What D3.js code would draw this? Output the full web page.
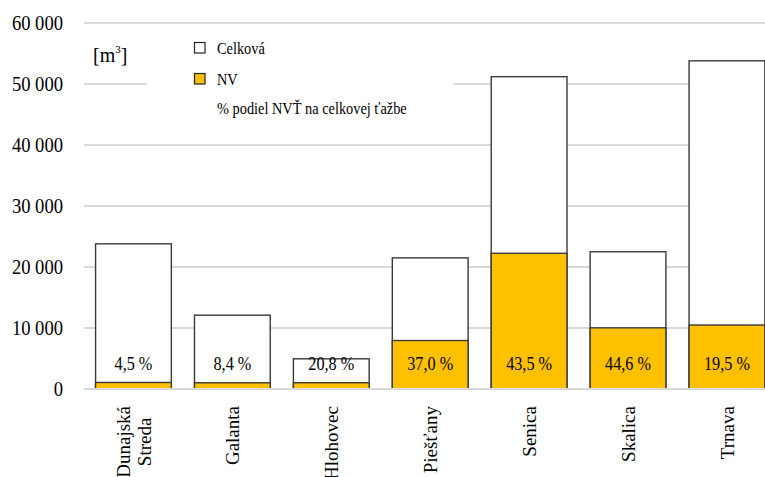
<!DOCTYPE html>
<html>
<head>
<meta charset="utf-8">
<script src="https://cdn.jsdelivr.net/npm/d3@7"></script>
<style>
  html, body { margin: 0; padding: 0; background: #fff; overflow: hidden; }
  svg { display: block; }
  svg text { font-family: "Liberation Serif", "DejaVu Serif", serif; }
</style>
</head>
<body>
<svg id="chart" width="765" height="477"></svg>
<script>
const categories = ["Dunajská Streda", "Galanta", "Hlohovec", "Piešťany", "Senica", "Skalica", "Trnava"];
const totalValues = [23800, 12100, 4950, 21500, 51200, 22500, 53800];
const nvValues = [1070, 1020, 1030, 7950, 22250, 10030, 10490];
const shareLabels = ["4,5 %", "8,4 %", "20,8 %", "37,0 %", "43,5 %", "44,6 %", "19,5 %"];
const yTicks = [0, 10000, 20000, 30000, 40000, 50000, 60000];
const legendItems = ["Celková", "NV", "% podiel NVŤ na celkovej ťažbe"];

const FONT = "Liberation Serif";
const svg = d3.select("#chart");
const W = 765, H = 477;

const x = d3.scaleBand().domain(categories).range([84, 776.4]).paddingInner(0.234).paddingOuter(0.117);
const y = d3.scaleLinear().domain([0, 60000]).range([389, 23]);

const fmt = v => d3.format(",")(v).replace(/,/g, " ");

// gridlines
svg.append("g").selectAll("line").data(yTicks).join("line")
  .attr("x1", 84).attr("x2", W)
  .attr("y1", d => y(d)).attr("y2", d => y(d))
  .attr("stroke", "#d9d9d9").attr("stroke-width", 2);

// y tick labels via axis
const yAxis = d3.axisLeft(y).tickValues(yTicks).tickFormat(fmt).tickSize(0).tickPadding(0);
const gy = svg.append("g").attr("transform", "translate(63,0)").call(yAxis)
  .attr("font-family", FONT).attr("font-size", 20);
gy.select(".domain").remove();
gy.selectAll("text")
  .attr("font-family", FONT)
  .attr("font-size", 20).attr("fill", "#000")
  .attr("dy", "0.34em")
  .attr("transform", "scale(0.93,1)");

// legend background (white, hides gridline)
svg.append("rect").attr("x", 147).attr("y", 30).attr("width", 307).attr("height", 95).attr("fill", "#fff");

// bars total
const bars = svg.append("g");
bars.selectAll("rect.total").data(categories).join("rect")
  .attr("class", "total")
  .attr("x", d => x(d)).attr("width", x.bandwidth())
  .attr("y", (d, i) => y(totalValues[i])).attr("height", (d, i) => y(0) - y(totalValues[i]))
  .attr("fill", "#fff").attr("stroke", "#3a3a3a").attr("stroke-width", 1.4);
bars.selectAll("rect.nv").data(categories).join("rect")
  .attr("class", "nv")
  .attr("x", d => x(d)).attr("width", x.bandwidth())
  .attr("y", (d, i) => y(nvValues[i])).attr("height", (d, i) => y(0) - y(nvValues[i]))
  .attr("fill", "#FFC000").attr("stroke", "#3a3a3a").attr("stroke-width", 1.4);

// redraw baseline gridline on top
svg.append("line").attr("x1", 84).attr("x2", W).attr("y1", y(0)).attr("y2", y(0))
  .attr("stroke", "#d9d9d9").attr("stroke-width", 2);

// share labels
svg.append("g").selectAll("text").data(categories).join("text")
  .attr("transform", d => `translate(${x(d) + x.bandwidth() / 2},${y(0) - 25}) scale(0.9,1)`)
  .attr("text-anchor", "middle").attr("dy", "0.35em")
  .attr("font-family", FONT).attr("font-size", 18).attr("fill", "#000")
  .text((d, i) => shareLabels[i]);

// category labels (rotated)
const xl = svg.append("g");
categories.forEach(c => {
  const cx = x(c) + x.bandwidth() / 2;
  const parts = c.split(" ");
  const lineH = 21;
  const g = xl.append("g").attr("transform", `translate(${cx},406) rotate(-90)`);
  if (parts.length === 1) {
    g.append("text").attr("font-family", FONT).attr("font-size", 19).attr("fill", "#000")
      .attr("text-anchor", "end").attr("dy", "0.35em").text(c);
  } else {
    const t1 = g.append("text").attr("font-family", FONT).attr("font-size", 19).attr("text-anchor", "end")
      .attr("y", -lineH / 2).attr("dy", "0.35em").text(parts[0]);
    const w1 = t1.node().getComputedTextLength();
    g.append("text").attr("font-family", FONT).attr("font-size", 19).attr("text-anchor", "middle")
      .attr("x", -w1 / 2).attr("y", lineH / 2).attr("dy", "0.35em").text(parts[1]);
  }
});

// unit label
const unit = svg.append("text").attr("x", 93).attr("y", 62).attr("font-family", FONT).attr("font-size", 20).attr("fill", "#000");
unit.append("tspan").text("[m");
unit.append("tspan").attr("font-size", 11).attr("dy", -9).text("3");
unit.append("tspan").attr("dy", 9).text("]");

// legend
const lg = svg.append("g");
const lgY = [48, 79, 108];
legendItems.forEach((t, i) => {
  if (i < 2) {
    lg.append("rect").attr("x", 194.5).attr("y", lgY[i] - 5.5).attr("width", 10.5).attr("height", 10.5)
      .attr("fill", i === 0 ? "#fff" : "#FFC000").attr("stroke", "#222").attr("stroke-width", 1.2);
  }
  lg.append("text")
    .attr("transform", `translate(217,${lgY[i]}) scale(0.87,1)`)
    .attr("dy", "0.35em").attr("font-family", FONT).attr("font-size", 16.5).attr("fill", "#000").text(t);
});
</script>
</body>
</html>
